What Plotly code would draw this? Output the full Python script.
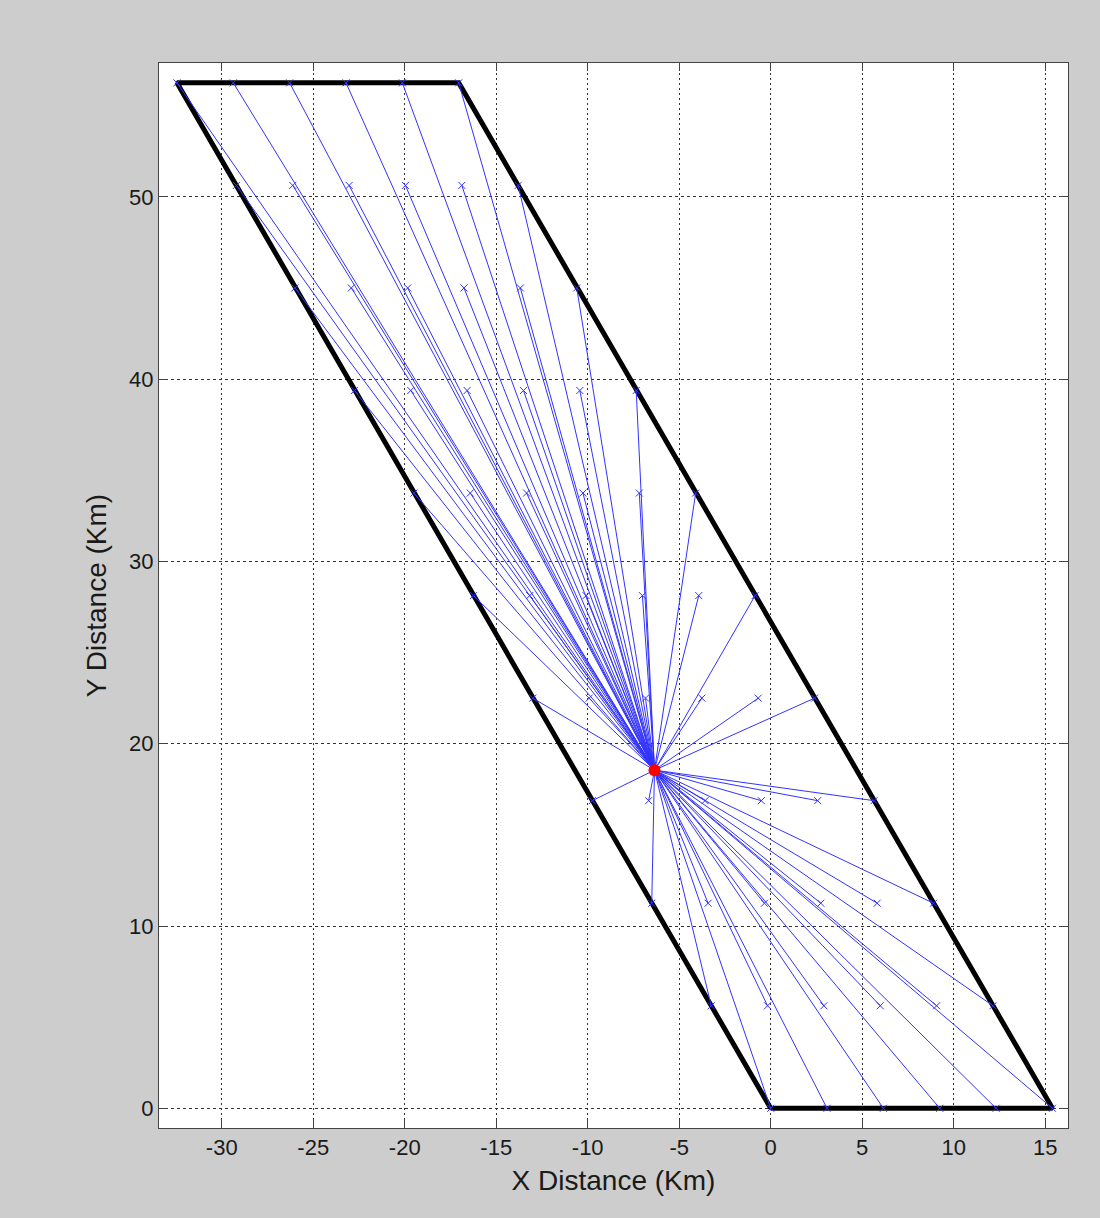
import plotly.graph_objects as go

# Fault plane outline (km)
fault_x = [0.0, 15.4, -17.05, -32.45, 0.0]
fault_y = [0.0, 0.0, 56.25, 56.25, 0.0]

# Hypocenter (km)
hypo_x = [-6.35]
hypo_y = [18.55]

# Sub-fault station grid: along-strike rows and across-strike columns
row_y = [0.0, 5.625, 11.25, 16.875, 22.5, 28.125, 33.75, 39.375, 45.0, 50.625, 56.25]
row_left_x = [0.0, -3.25, -6.5, -9.75, -13.0, -16.25, -19.5, -22.75, -26.0, -29.2, -32.45]
col_offset = [0.0, 3.08, 6.16, 9.24, 12.32, 15.4]

x_ticks = [-30, -25, -20, -15, -10, -5, 0, 5, 10, 15]
x_tick_text = ["-30", "-25", "-20", "-15", "-10", "-5", "0", "5", "10", "15"]
y_ticks = [0, 10, 20, 30, 40, 50]
y_tick_text = ["0", "10", "20", "30", "40", "50"]

# Station coordinates
st_x, st_y = [], []
for yy, xl in zip(row_y, row_left_x):
    for off in col_offset:
        st_x.append(xl + off)
        st_y.append(yy)

# Rays from the hypocenter to every station
ray_x, ray_y = [], []
for sx, sy in zip(st_x, st_y):
    ray_x += [hypo_x[0], sx, None]
    ray_y += [hypo_y[0], sy, None]

blue = "rgb(50,50,255)"
font_family = "Arial, Liberation Sans, sans-serif"

fig = go.Figure()

fig.add_trace(go.Scatter(
    x=fault_x, y=fault_y, mode="lines",
    line=dict(color="black", width=5), hoverinfo="skip", showlegend=False))

fig.add_trace(go.Scatter(
    x=ray_x, y=ray_y, mode="lines",
    line=dict(color=blue, width=1), hoverinfo="skip", showlegend=False))

fig.add_trace(go.Scatter(
    x=st_x, y=st_y, mode="markers",
    marker=dict(symbol="x-thin", size=7, line=dict(color=blue, width=1)),
    showlegend=False))

fig.add_trace(go.Scatter(
    x=hypo_x, y=hypo_y, mode="markers",
    marker=dict(symbol="circle", size=12, color="red", line=dict(width=0)),
    showlegend=False))

axis_common = dict(
    showgrid=True, gridcolor="#333333", gridwidth=1,
    zeroline=False, showline=True, linecolor="#444444", linewidth=1,
    mirror="ticks", ticks="inside", ticklen=8, tickcolor="#444444",
    tickfont=dict(family=font_family, size=22, color="#1a1a1a"),
)

fig.update_layout(
    width=1100, height=1218,
    margin=dict(l=159, r=32, t=63, b=90),
    paper_bgcolor="#cdcdcd", plot_bgcolor="white",
    xaxis=dict(
        range=[-33.43, 16.25], tickvals=x_ticks, ticktext=x_tick_text, griddash="2px,3px",
        title=dict(text="X Distance (Km)", standoff=10,
                   font=dict(family=font_family, size=28, color="#1a1a1a")),
        **axis_common),
    yaxis=dict(
        range=[-1.08, 57.34], tickvals=y_ticks, ticktext=y_tick_text, griddash="3px,3px",
        title=dict(text="Y Distance (Km)", standoff=14,
                   font=dict(family=font_family, size=28, color="#1a1a1a")),
        **axis_common),
)

fig.write_html("out.html")
